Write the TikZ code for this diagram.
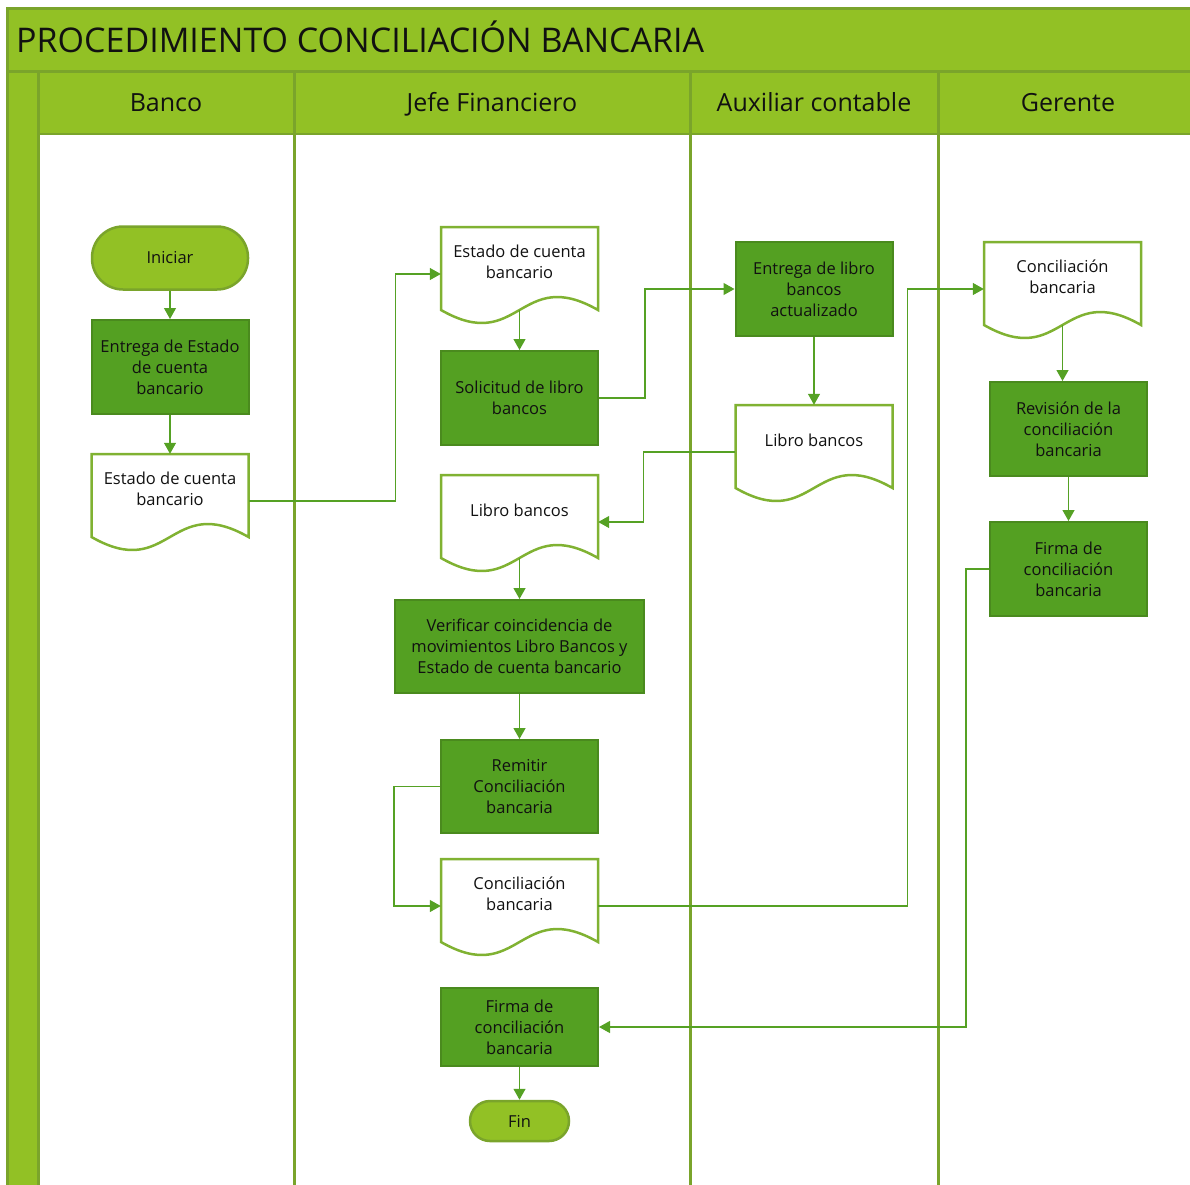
\documentclass[tikz,border=0pt]{standalone}
\usepackage{fontspec}
\setmainfont{Open Sans}
\usetikzlibrary{arrows.meta,calc}
\definecolor{lgreen}{HTML}{92C125}
\definecolor{lborder}{HTML}{7AA42B}
\definecolor{dgreen}{HTML}{54A022}
\definecolor{dborder}{HTML}{4A8A1E}
\definecolor{docborder}{HTML}{80B232}
\definecolor{conncol}{HTML}{55A124}
\definecolor{txt}{HTML}{111111}
\tikzset{
  bodyfont/.style={font=\fontsize{16.5}{21}\selectfont},
  proc/.style={draw=dborder, line width=2pt, fill=dgreen, minimum width=157pt, minimum height=94pt, align=center, bodyfont, text=txt, inner sep=0pt},
  term/.style={draw=lborder, line width=2.5pt, fill=lgreen, align=center, bodyfont, text=txt, inner sep=0pt},
  docbox/.style={minimum width=157pt, minimum height=94pt, inner sep=0pt},
  doctext/.style={align=center, bodyfont, text=txt, inner sep=0pt},
  docline/.style={draw=docborder, line width=2.5pt, fill=white, line join=miter},
  conn/.style={draw=conncol, line width=1.2pt, -{Triangle[length=11pt,width=12pt]}},
  lane/.style={draw=lborder, line width=3pt},
  hdr/.style={font=\fontsize{25}{30}\selectfont, text=txt, inner sep=0pt, anchor=base}
}
\newcommand\docshape[4]{%
  \node[docbox] (#1) at (#2,#3+47) {};
  \draw[docline] (#2-78.5,#3) -- (#2+78.5,#3) -- (#2+78.5,#3+83)
     .. controls (#2,#3+38) and (#2,#3+128) .. (#2-78.5,#3+83) -- cycle;
  \node[doctext] (#1-t) at (#2,#3+35) {#4};
  \coordinate (#1-b) at (#2,#3+83);
}
\begin{document}
\begin{tikzpicture}[x=1pt,y=-1pt]
\useasboundingbox (0,0) rectangle (1190,1184);
\begin{scope}
\clip (0,0) rectangle (1190,1184);
\fill[lgreen] (7,8) rectangle (1200,71);
\fill[lgreen] (38,71) rectangle (1200,134);
\fill[lgreen] (7,71) rectangle (38,1200);
\draw[lane] (7,1200) -- (7,8) -- (1200,8);
\draw[lane] (7,71) -- (1200,71);
\draw[lborder, line width=2.5pt] (38,134) -- (1200,134);
\foreach \xx in {38,294,690,938} { \draw[lane] (\xx,71) -- (\xx,1200); }
\end{scope}
\node[anchor=base west, inner sep=0pt, text=txt, font=\fontsize{34}{40}\selectfont] (title) at (16,52) {PROCEDIMIENTO CONCILIACIÓN BANCARIA};
\node[hdr] (h1) at (166,111) {Banco};
\node[hdr] (h2) at (492,111) {Jefe Financiero};
\node[hdr] (h3) at (814,111) {Auxiliar contable};
\node[hdr] (h4) at (1068,111) {Gerente};
% Banco
\node[term, minimum width=156pt, minimum height=63pt, rounded corners=31pt] (ini) at (170,258) {Iniciar};
\node[proc] (ent) at (170,367) {Entrega de Estado\\de cuenta\\bancario};
\docshape{docB}{170}{454}{Estado de cuenta\\bancario}
% Jefe
\docshape{docJa}{519.5}{227}{Estado de cuenta\\bancario}
\node[proc] (sol) at (519.5,398) {Solicitud de libro\\bancos};
\docshape{docJb}{519.5}{475}{Libro bancos}
\node[proc, minimum width=249pt, minimum height=93pt] (ver) at (519.5,646.5) {Verificar coincidencia de\\movimientos Libro Bancos y\\Estado de cuenta bancario};
\node[proc, minimum height=93pt] (rem) at (519.5,786.5) {Remitir\\Conciliación\\bancaria};
\docshape{docJc}{519.5}{859}{Conciliación\\bancaria}
\node[proc, minimum height=78pt] (firJ) at (519.5,1027) {Firma de\\conciliación\\bancaria};
\node[term, minimum width=99pt, minimum height=40pt, rounded corners=20pt] (fin) at (519.5,1121) {Fin};
% Auxiliar
\node[proc] (entL) at (814,289) {Entrega de libro\\bancos\\actualizado};
\docshape{docA}{814}{405}{Libro bancos}
% Gerente
\docshape{docG}{1062.5}{242}{Conciliación\\bancaria}
\node[proc] (rev) at (1068.5,429) {Revisión de la\\conciliación\\bancaria};
\node[proc] (firG) at (1068.5,569) {Firma de\\conciliación\\bancaria};
% connectors
\draw[conn] (ini.south) -- (ent.north);
\draw[conn] (ent.south) -- (docB.north);
\draw[conn] (docB.east) -- ++(147,0) |- (docJa.west);
\draw[conn] (docJa-b) -- (sol.north);
\draw[conn] (sol.east) -- ++(46,0) |- (entL.west);
\draw[conn] (entL.south) -- (docA.north);
\draw[conn] (docA.west) -- ++(-92,0) |- (docJb.east);
\draw[conn] (docJb-b) -- (ver.north);
\draw[conn] (ver.south) -- (rem.north);
\draw[conn] (rem.west) -- ++(-46,0) |- (docJc.west);
\draw[conn] (docJc.east) -- ++(309,0) |- (docG.west);
\draw[conn] (docG-b) -- (docG-b |- rev.north);
\draw[conn] (rev.south) -- (firG.north);
\draw[conn] (firG.west) -- ++(-23,0) |- (firJ.east);
\draw[conn] (firJ.south) -- (fin.north);
\end{tikzpicture}
\end{document}
